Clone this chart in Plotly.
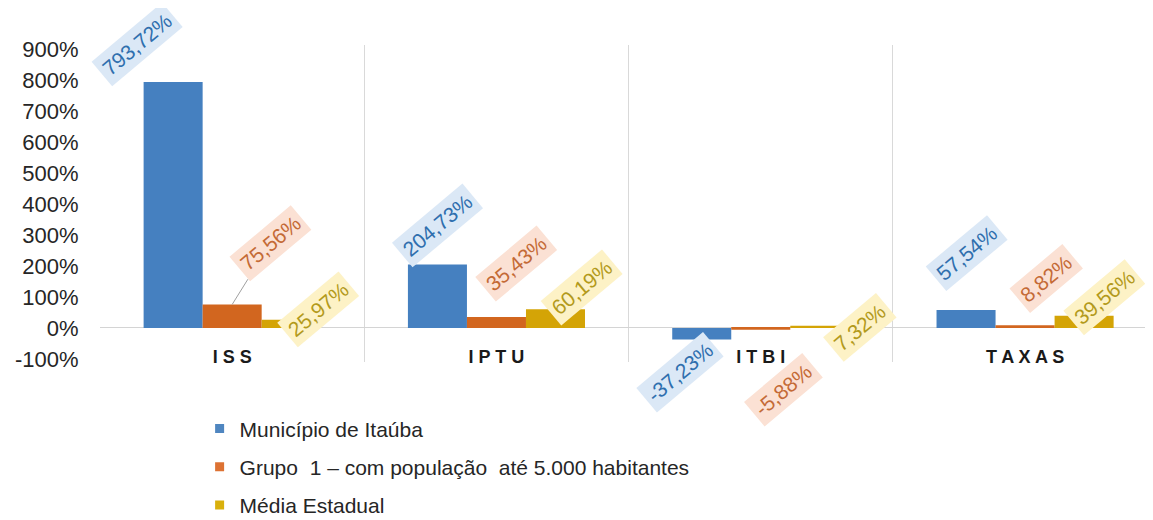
import plotly.graph_objects as go

# ---- data ----
categories = ["ISS", "IPTU", "ITBI", "TAXAS"]
series_names = [
    "Município de Itaúba",
    "Grupo  1 – com população  até 5.000 habitantes",
    "Média Estadual",
]
municipio = [793.72, 204.73, -37.23, 57.54]
grupo1 = [75.56, 35.43, -5.88, 8.82]
media_estadual = [25.97, 60.19, 7.32, 39.56]
y_tick_values = [-100, 0, 100, 200, 300, 400, 500, 600, 700, 800, 900]

# ---- styles ----
bar_colors = ["#4580c0", "#d2661f", "#d4a406"]
legend_colors = ["#4f86c0", "#dd7233", "#d9b00c"]
label_bg = ["#dbe8f6", "#fbe1d4", "#fdf2c6"]
label_fg = ["#2f6fae", "#c46a36", "#b39a1c"]
# label offsets in pixels (dx right, dy down) relative to bar end
label_offsets = [
    [(-36, -37), (0, -39), (-22, 33), (0, -57)],
    [(38, -61), (20, -53), (23, 60), (21, -47)],
    [(27, -10), (26, -22), (40, 2), (20, -18)],
]
leader_visible = [
    [False, False, False, False],
    [True, False, False, False],
    [False, False, False, False],
]

FONT = "Liberation Sans, Arial, sans-serif"
bargap = 0.33
series_values = [municipio, grupo1, media_estadual]
xs = list(range(len(categories)))

fig = go.Figure()
for j, (name, vals) in enumerate(zip(series_names, series_values)):
    fig.add_trace(go.Bar(
        x=xs, y=vals, name=name,
        marker=dict(color=bar_colors[j], line=dict(width=0)),
        showlegend=False,
    ))
# legend entries with small square keys
for j, name in enumerate(series_names):
    fig.add_trace(go.Scatter(
        x=[None], y=[None], mode="markers", name=name,
        marker=dict(symbol="square", size=9, color=legend_colors[j]),
        legendgroup=f"g{j}",
    ))

bw = (1 - bargap) / len(series_values)
annotations = []
for j, vals in enumerate(series_values):
    for i, v in enumerate(vals):
        dx, dy = label_offsets[j][i]
        annotations.append(dict(
            x=i + (j - 1) * bw, y=v, xref="x", yref="y",
            text=f"{v:.2f}".replace(".", ",") + "%",
            showarrow=True, arrowhead=0, arrowwidth=1,
            arrowcolor="#a0a0a0" if leader_visible[j][i] else "rgba(0,0,0,0)",
            ax=dx, ay=dy, standoff=0,
            textangle=-40,
            font=dict(family=FONT, size=21, color=label_fg[j]),
            bgcolor=label_bg[j], borderpad=4,
        ))

# the page body adds an 8px offset; figure is sized so it ends at the window edge
fig.update_layout(
    width=1145, height=512,
    margin=dict(l=92, r=0, t=37, b=158, autoexpand=False),
    paper_bgcolor="white", plot_bgcolor="white",
    barmode="group", bargap=bargap, bargroupgap=0,
    showlegend=True,
    legend=dict(
        x=0.0946, y=-0.146, xanchor="left", yanchor="top",
        orientation="v", tracegroupgap=8,
        font=dict(family=FONT, size=21, color="#262626"),
        itemwidth=30,
    ),
    annotations=annotations,
    xaxis=dict(
        range=[-0.5, 3.484], automargin=False,
        tickmode="array", tickvals=xs,
        ticktext=[" ".join(c) for c in categories],
        tickfont=dict(family=FONT, size=18, color="#1a1a1a", weight="bold"),
        ticks="outside", ticklen=12, tickcolor="rgba(0,0,0,0)",
        showgrid=False, zeroline=False, showline=False,
        anchor="free", position=0.1075,
        minor=dict(tick0=-0.5, dtick=1, showgrid=True,
                   gridcolor="#d9d9d9", gridwidth=1, ticks=""),
    ),
    yaxis=dict(
        range=[-110, 913], automargin=False,
        tickmode="array", tickvals=y_tick_values,
        ticktext=[f"{t}%" for t in y_tick_values],
        tickfont=dict(family=FONT, size=22, color="#262626"),
        ticks="outside", ticklen=16, tickcolor="rgba(0,0,0,0)",
        showgrid=False, showline=False,
        zeroline=True, zerolinecolor="#d4d4d4", zerolinewidth=1,
    ),
)

fig.write_html("out.html")
